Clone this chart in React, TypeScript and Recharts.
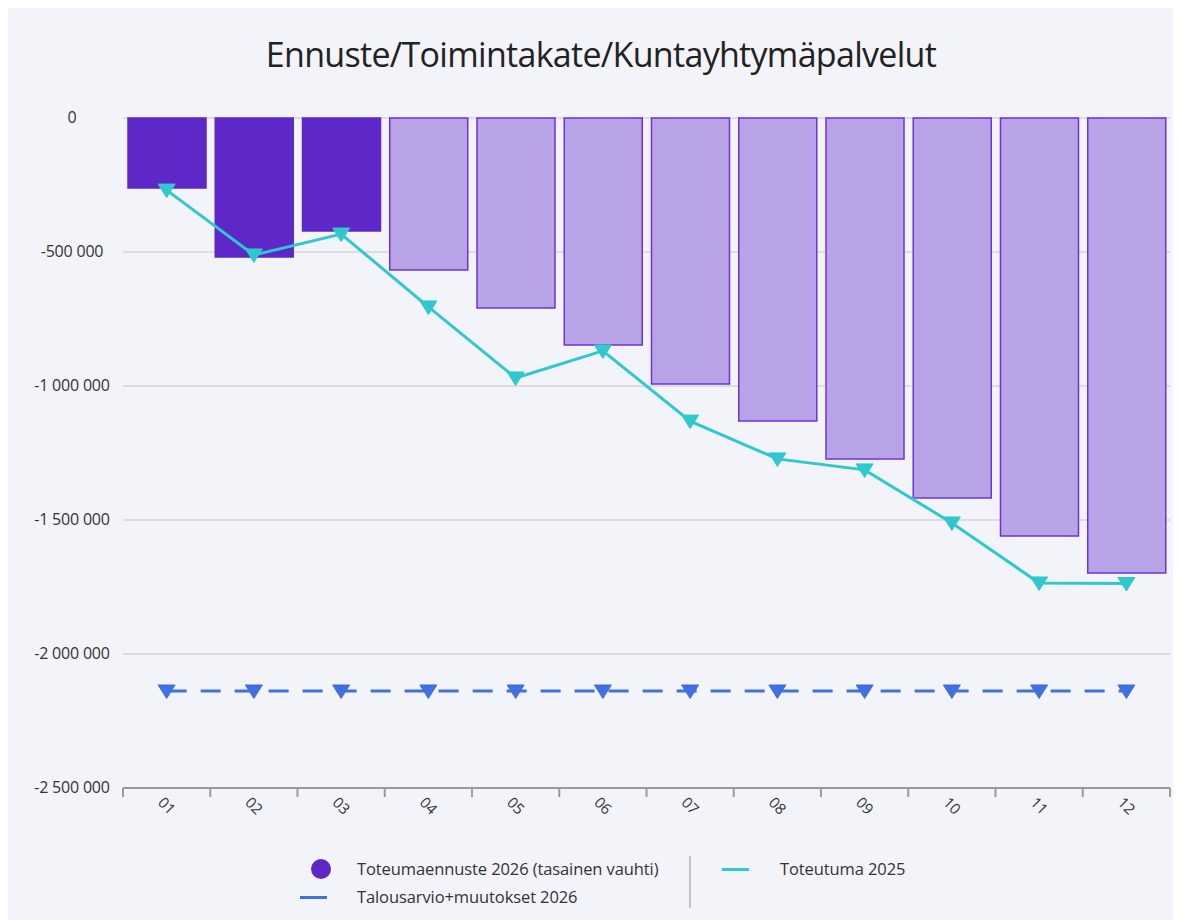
import React from "react";
import { ComposedChart, Bar, Line, XAxis, YAxis, CartesianGrid, Cell } from "recharts";

const categories = ["01", "02", "03", "04", "05", "06", "07", "08", "09", "10", "11", "12"];
const forecast2026 = [-261000, -519000, -422000, -567000, -709000, -847000, -993000, -1131000, -1272000, -1418000, -1560000, -1698000];
const actual2025 = [-269000, -511000, -433000, -705000, -970000, -869000, -1131000, -1272000, -1313000, -1511000, -1735000, -1737000];
const budget2026 = [-2138000, -2138000, -2138000, -2138000, -2138000, -2138000, -2138000, -2138000, -2138000, -2138000, -2138000, -2138000];
const actualMonths = 3;
const yTicks = [0, -500000, -1000000, -1500000, -2000000, -2500000];

const title = "Ennuste/Toimintakate/Kuntayhtymäpalvelut";
const seriesNames = {
  forecast: "Toteumaennuste 2026 (tasainen vauhti)",
  budget: "Talousarvio+muutokset 2026",
  actual: "Toteutuma 2025",
};

const data = categories.map((c, i) => ({
  month: c,
  forecast: forecast2026[i],
  actual: actual2025[i],
  budget: budget2026[i],
}));

const FONT = "'Open Sans', 'Noto Sans', sans-serif";
const C_SOLID = "#5e28c9";
const C_LIGHT = "#b8a3e7";
const C_STROKE = "#6e33d8";
const C_CYAN = "#2fc8cf";
const C_BLUE = "#4170e0";

const fmt = (v: number) => {
  const s = Math.abs(v).toString().replace(/\B(?=(\d{3})+(?!\d))/g, " ");
  return (v < 0 ? "-" : "") + s;
};

const YTick = (props: any) => {
  const { x, y, payload } = props;
  return (
    <text x={x - 51} y={y} dy={5} textAnchor="middle" fontSize={16} letterSpacing={-0.2} fill="#333" fontFamily={FONT}>
      {fmt(payload.value)}
    </text>
  );
};

const XTick = (props: any) => {
  const { x, y, payload, index } = props;
  const off = payload.offset || 43.6;
  return (
    <g>
      <line x1={x - off} x2={x - off} y1={y} y2={y + 9} stroke="#9a9a9a" strokeWidth={2} />
      {index === categories.length - 1 && (
        <line x1={x + off} x2={x + off} y1={y} y2={y + 9} stroke="#9a9a9a" strokeWidth={2} />
      )}
      <text
        x={x}
        y={y + 18}
        textAnchor="middle"
        fontSize={15}
        fill="#333"
        fontFamily={FONT}
        transform={`rotate(45 ${x} ${y + 18})`}
        dy={5}
      >
        {payload.value}
      </text>
    </g>
  );
};

const triangle = (color: string) => (props: any) => {
  const { cx, cy, index } = props;
  if (cx == null || cy == null) return <g key={index} />;
  return (
    <polygon
      key={index}
      points={`${cx - 8.5},${cy - 6} ${cx + 8.5},${cy - 6} ${cx},${cy + 7.5}`}
      fill={color}
      stroke={color}
      strokeWidth={1}
    />
  );
};

const legendText: React.CSSProperties = {
  position: "absolute",
  fontSize: 16.5,
  color: "#333",
  lineHeight: "20px",
  whiteSpace: "nowrap",
  letterSpacing: -0.1,
};

export default function App() {
  return (
    <div style={{ position: "relative", width: 1173, height: 912, background: "#f3f4f9", fontFamily: FONT }}>
      <div
        style={{
          position: "absolute",
          top: 23,
          left: 0,
          width: 1186,
          textAlign: "center",
          fontSize: 34,
          color: "#222",
          fontFamily: FONT,
          letterSpacing: -0.7,
        }}
      >
        {title}
      </div>
      <div style={{ position: "absolute", top: 0, left: 0 }}>
        <ComposedChart
          width={1173}
          height={840}
          data={data}
          margin={{ top: 110, right: 11, bottom: 10, left: 10 }}
        >
          <CartesianGrid vertical={false} stroke="#d4d4da" strokeWidth={1.5} />
          <XAxis
            dataKey="month"
            height={50}
            tickLine={false}
            tickSize={0}
            tickMargin={0}
            axisLine={{ stroke: "#9a9a9a", strokeWidth: 2 }}
            tick={<XTick />}
            interval={0}
          />
          <YAxis
            width={105}
            domain={[-2500000, 0]}
            ticks={yTicks}
            axisLine={false}
            tickLine={false}
            tickSize={0}
            tickMargin={0}
            tick={<YTick />}
          />
          <Bar dataKey="forecast" barSize={78} isAnimationActive={false}>
            {data.map((d, i) => (
              <Cell
                key={d.month}
                fill={i < actualMonths ? C_SOLID : C_LIGHT}
                stroke={i < actualMonths ? C_SOLID : C_STROKE}
                strokeWidth={1.5}
              />
            ))}
          </Bar>
          <Line
            dataKey="budget"
            stroke={C_BLUE}
            strokeWidth={3}
            strokeDasharray="20 14"
            dot={triangle(C_BLUE)}
            activeDot={false}
            isAnimationActive={false}
          />
          <Line
            dataKey="actual"
            stroke={C_CYAN}
            strokeWidth={3}
            dot={triangle(C_CYAN)}
            activeDot={false}
            isAnimationActive={false}
          />
        </ComposedChart>
      </div>
      <div style={{ position: "absolute", left: 0, top: 0, width: 1173, height: 912, pointerEvents: "none" }}>
        <div style={{ position: "absolute", left: 303, top: 851, width: 20, height: 20, borderRadius: 10, background: C_SOLID }} />
        <div style={{ ...legendText, left: 349, top: 851 }}>{seriesNames.forecast}</div>
        <div style={{ position: "absolute", left: 292, top: 888, width: 27, height: 3, background: C_BLUE }} />
        <div style={{ ...legendText, left: 349, top: 879 }}>{seriesNames.budget}</div>
        <div style={{ position: "absolute", left: 681, top: 848, width: 2, height: 52, background: "#c4c4c4" }} />
        <div style={{ position: "absolute", left: 714, top: 860, width: 27, height: 3, background: C_CYAN }} />
        <div style={{ ...legendText, left: 772, top: 851 }}>{seriesNames.actual}</div>
      </div>
    </div>
  );
}
